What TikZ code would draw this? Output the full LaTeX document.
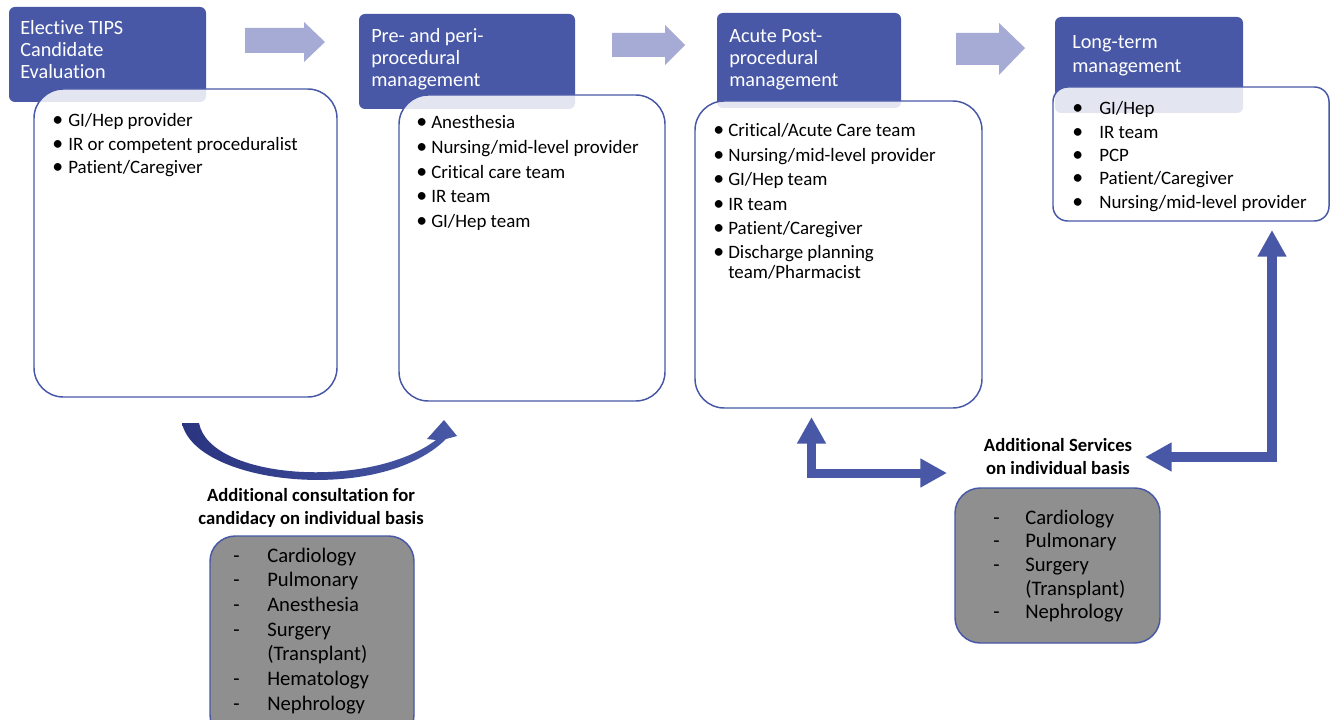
\documentclass[tikz,border=0pt]{standalone}
\usepackage{fontspec}
\setmainfont{Carlito}[Ligatures=NoCommon]
\usetikzlibrary{arrows.meta,fit}
\definecolor{hdrblue}{HTML}{4858A6}
\definecolor{lightarr}{HTML}{A5ABD5}
\definecolor{greyfill}{HTML}{8E8F8E}
\definecolor{navy}{HTML}{2A3480}
\newcommand{\lns}[1]{\begin{tabular}[t]{@{}l@{}}#1\end{tabular}}
\newcommand{\clns}[1]{\begin{tabular}[t]{@{}c@{}}#1\end{tabular}}
\newcommand{\bul}[1]{\makebox[#1][l]{\scalebox{1.15}{•}}}
\newcommand{\dsh}[1]{\makebox[#1][l]{-}}
\begin{document}
\begin{tikzpicture}[x=0.75pt,y=-0.75pt,
  every node/.style={inner sep=0pt},
  hdr/.style={fill=hdrblue, rounded corners=4.5pt, inner sep=0pt},
  wbox/.style={draw=hdrblue, line width=1.1pt, fill=white, fill opacity=0.85, rounded corners=22pt, inner sep=0pt},
  gbox/.style={draw=hdrblue, line width=1.1pt, fill=greyfill, rounded corners=19pt, inner sep=0pt},
  htext/.style={anchor=base west, text=white, font=\fontsize{15.2}{16.5}\selectfont},
  ltext/.style={anchor=base west, text=black},
  btext/.style={anchor=base, text=black, font=\bfseries\fontsize{14}{17.25}\selectfont},
  blockarr/.style={fill=lightarr},
  elbow/.style={draw=hdrblue, line join=miter, {Triangle[length=20pt,width=20.5pt]}-{Triangle[length=20pt,width=20.5pt]}}
]
\useasboundingbox (0,0) rectangle (1331,720);
\fill[white] (0,0) rectangle (1331,720);

% ---- stage 1
\node[hdr, fit={(9,7) (206,102)}] (h1) {};
\node[htext] (h1t) at (20,35) {\lns{Elective TIPS\\Candidate\\Evaluation}};
\node[wbox, fit={(34,89) (337,397)}] (w1) {};
\node[ltext, font=\fontsize{14.2}{17.6}\selectfont] (w1t) at (52,127)
  {\lns{\bul{12pt}GI/Hep provider\\\bul{12pt}IR or competent proceduralist\\\bul{12pt}Patient/Caregiver}};

% ---- stage 2
\node[hdr, fit={(359,14) (575,109)}] (h2) {};
\node[htext] (h2t) at (371,43) {\lns{Pre- and peri-\\procedural\\management}};
\node[wbox, fit={(399,95) (665,401)}] (w2) {};
\node[ltext, font=\fontsize{14.2}{18.4}\selectfont] (w2t) at (416,129)
  {\lns{\bul{11.25pt}Anesthesia\\\bul{11.25pt}Nursing/mid-level provider\\\bul{11.25pt}Critical care team\\\bul{11.25pt}IR team\\\bul{11.25pt}GI/Hep team}};

% ---- stage 3
\node[hdr, fit={(717,13) (901,108)}] (h3) {};
\node[htext] (h3t) at (729,43) {\lns{Acute Post-\\procedural\\management}};
\node[wbox, fit={(695,101) (982,408)}] (w3) {};
\node[ltext, font=\fontsize{14.2}{18.3}\selectfont] (w3t) at (713,137)
  {\lns{\bul{11.25pt}Critical/Acute Care team\\\bul{11.25pt}Nursing/mid-level provider\\\bul{11.25pt}GI/Hep team\\\bul{11.25pt}IR team\\\bul{11.25pt}Patient/Caregiver\\\bul{11.25pt}Discharge planning\\[-3.3pt]\hspace*{11.25pt}team/Pharmacist}};

% ---- stage 4
\node[hdr, fit={(1055,17) (1243,113)}] (h4) {};
\node[htext, font=\fontsize{15.2}{18}\selectfont] (h4t) at (1072,49) {\lns{Long-term\\management}};
\node[wbox, rounded corners=11pt, fit={(1053,87) (1329,221)}] (w4) {};
\node[ltext, font=\fontsize{14.2}{17.5}\selectfont] (w4t) at (1072,115)
  {\lns{\bul{20.25pt}GI/Hep\\\bul{20.25pt}IR team\\\bul{20.25pt}PCP\\\bul{20.25pt}Patient/Caregiver\\\bul{20.25pt}Nursing/mid-level provider}};

% ---- block arrows between stages
\fill[blockarr] (245,28) -- (304,28) -- (304,22) -- (325,42) -- (304,62) -- (304,53) -- (245,53) -- cycle;
\fill[blockarr] (612,33) -- (665,33) -- (665,25) -- (685,45) -- (665,65) -- (665,57) -- (612,57) -- cycle;
\fill[blockarr] (956,33) -- (999,33) -- (999,23) -- (1025,48) -- (999,75) -- (999,65) -- (956,65) -- cycle;

% ---- curved arrow (consultation)
\shade[left color=navy, right color=hdrblue]
  (182,423) .. controls (195,485) and (380,505) .. (446,439)
  -- (457,436) -- (444,420) -- (427,439) -- (436,440)
  .. controls (370,490) and (210,480) .. (199,423) -- cycle;

\node[btext] (lab1) at (311,501) {\clns{Additional consultation for\\candidacy on individual basis}};
\node[gbox, fit={(210,536) (414,740)}] (g1) {};
\node[ltext, font=\fontsize{15.5}{18.5}\selectfont] (g1t) at (233,562)
  {\lns{\dsh{25.5pt}Cardiology\\\dsh{25.5pt}Pulmonary\\\dsh{25.5pt}Anesthesia\\\dsh{25.5pt}Surgery\\\hspace*{25.5pt}(Transplant)\\\dsh{25.5pt}Hematology\\\dsh{25.5pt}Nephrology}};

% ---- additional services
\node[btext] (lab2) at (1058,451) {\clns{Additional Services\\on individual basis}};
\node[gbox, fit={(955,488) (1160,643)}] (g2) {};
\node[ltext, font=\fontsize{15.5}{17.8}\selectfont] (g2t) at (993,524)
  {\lns{\dsh{24pt}Cardiology\\\dsh{24pt}Pulmonary\\\dsh{24pt}Surgery\\\hspace*{24pt}(Transplant)\\\dsh{24pt}Nephrology}};

\coordinate (la) at (811.5,417);
\coordinate (lc) at (811.5,473);
\coordinate (lb) at (947,473);
\draw[elbow, line width=6.75pt] (la) -- (lc) -- (lb);

\coordinate (ra) at (1272,230);
\coordinate (rc) at (1272,457);
\coordinate (rb) at (1145,457);
\draw[elbow, line width=7.5pt] (ra) -- (rc) -- (rb);
\end{tikzpicture}
\end{document}
